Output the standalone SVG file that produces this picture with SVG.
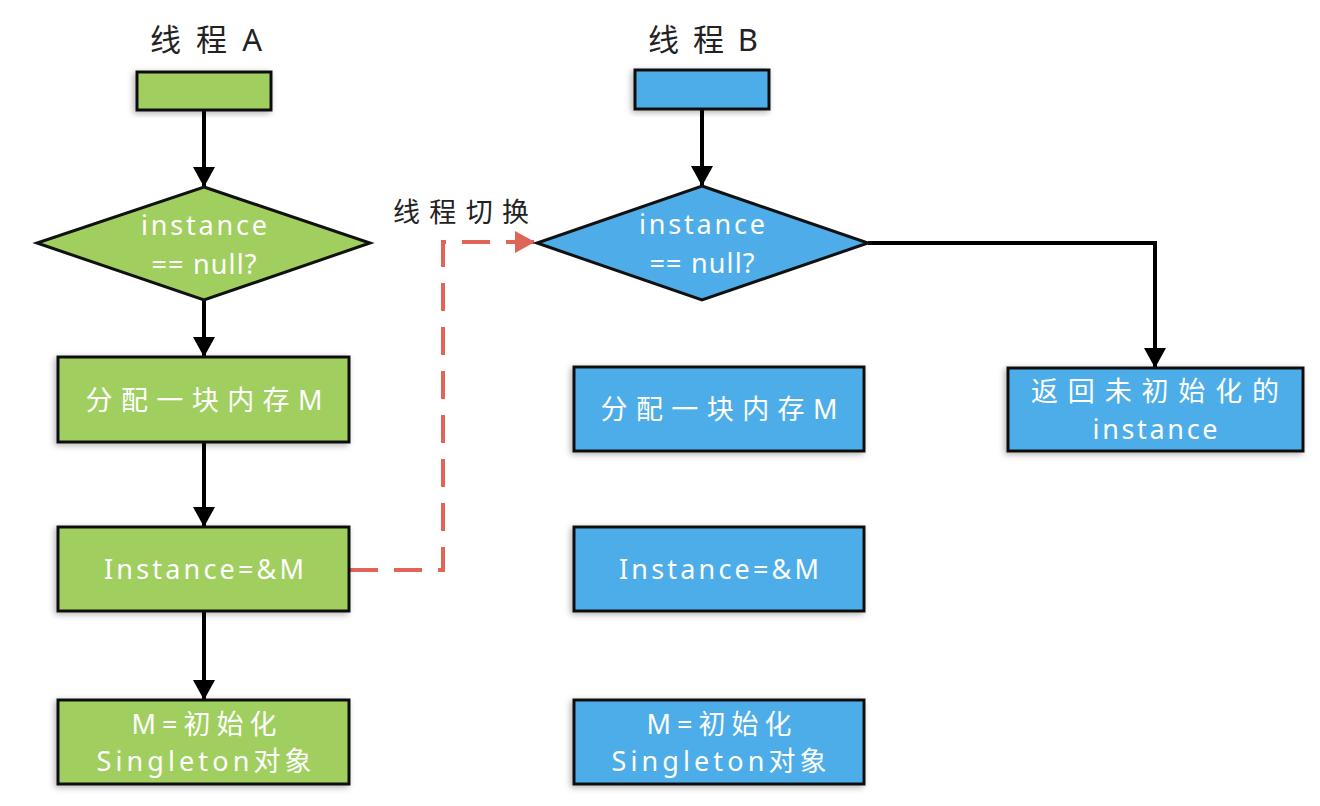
<svg xmlns="http://www.w3.org/2000/svg" width="1320" height="806" viewBox="0 0 1320 806">
<style>
.g{fill:#A0CF5F;stroke:#111;stroke-width:3}
.b{fill:#4EADE8;stroke:#111;stroke-width:3}
.sh{filter:url(#ds)}
.t{font-family:"Noto Sans","Noto Sans CJK SC",sans-serif;font-size:27px;fill:#fff;text-anchor:middle}
.h{font-family:"Noto Sans","Noto Sans CJK SC",sans-serif;font-size:31px;fill:#222;text-anchor:middle}
.c{stroke:#000;stroke-width:4;fill:none}
.r{stroke:#E06458;stroke-width:4;fill:none;stroke-dasharray:28 16}
</style>
<defs>
<filter id="ds" x="-10%" y="-20%" width="120%" height="140%">
<feDropShadow dx="-2" dy="2" stdDeviation="3" flood-color="#000" flood-opacity="0.3"/>
</filter>
<marker id="ab" markerUnits="userSpaceOnUse" markerWidth="24" markerHeight="22" refX="20" refY="11" orient="auto">
<path d="M0,0 L20,11 L0,22 Z" fill="#000"/>
</marker>
<marker id="ar" markerUnits="userSpaceOnUse" markerWidth="24" markerHeight="22" refX="20" refY="11" orient="auto">
<path d="M0,0 L20,11 L0,22 Z" fill="#E06458"/>
</marker>
</defs>
<g id="connectors">
<path class="c" d="M204,110 V187" marker-end="url(#ab)"/>
<path class="c" d="M204,300 V357" marker-end="url(#ab)"/>
<path class="c" d="M204,442 V527" marker-end="url(#ab)"/>
<path class="c" d="M204,611 V700" marker-end="url(#ab)"/>
<path class="c" d="M702,109 V186" marker-end="url(#ab)"/>
<path class="c" d="M868,243 H1155 V368" marker-end="url(#ab)"/>
<path class="r" d="M350,570 H443 V242 H535" marker-end="url(#ar)"/>
<text x="461" y="222" font-family="Noto Sans CJK SC,sans-serif" font-size="27" fill="#222" text-anchor="middle" textLength="136">线程切换</text>
</g>
<g id="titleA"><text class="h" x="206" y="51" textLength="112">线程A</text></g>
<g id="titleB"><text class="h" x="703" y="51" textLength="110">线程B</text></g>
<g id="startA"><rect class="g sh" x="137" y="72" width="134" height="38"/></g>
<g id="startB"><rect class="b sh" x="635" y="70" width="134" height="39"/></g>
<g id="diamondA">
<polygon class="g" points="204,187 370,243 204,300 37,243"/>
<text class="t" x="204" y="235" textLength="126">instance</text>
<text class="t" x="204" y="274" textLength="105">== null?</text>
</g>
<g id="diamondB">
<polygon class="b" points="702,186 868,243 702,300 537,243"/>
<text class="t" x="702" y="234" textLength="126">instance</text>
<text class="t" x="702" y="273" textLength="105">== null?</text>
</g>
<g id="allocA">
<rect class="g sh" x="58" y="357" width="291" height="85"/>
<text class="t" x="204" y="410" textLength="237">分配一块内存M</text>
</g>
<g id="assignA">
<rect class="g sh" x="58" y="527" width="291" height="84"/>
<text class="t" x="204" y="579" textLength="200">Instance=&amp;M</text>
</g>
<g id="initA">
<rect class="g sh" x="58" y="700" width="291" height="84"/>
<text class="t" x="204" y="734" textLength="145">M=初始化</text>
<text class="t" x="204" y="771" textLength="215">Singleton对象</text>
</g>
<g id="allocB">
<rect class="b sh" x="574" y="367" width="290" height="84"/>
<text class="t" x="719" y="419" textLength="237">分配一块内存M</text>
</g>
<g id="assignB">
<rect class="b sh" x="574" y="527" width="290" height="84"/>
<text class="t" x="719" y="579" textLength="200">Instance=&amp;M</text>
</g>
<g id="initB">
<rect class="b sh" x="574" y="700" width="290" height="84"/>
<text class="t" x="719" y="734" textLength="145">M=初始化</text>
<text class="t" x="719" y="771" textLength="215">Singleton对象</text>
</g>
<g id="returnB">
<rect class="b sh" x="1008" y="368" width="295" height="83"/>
<text class="t" x="1155" y="401" textLength="248">返回未初始化的</text>
<text class="t" x="1155" y="439" textLength="125">instance</text>
</g>
</svg>
